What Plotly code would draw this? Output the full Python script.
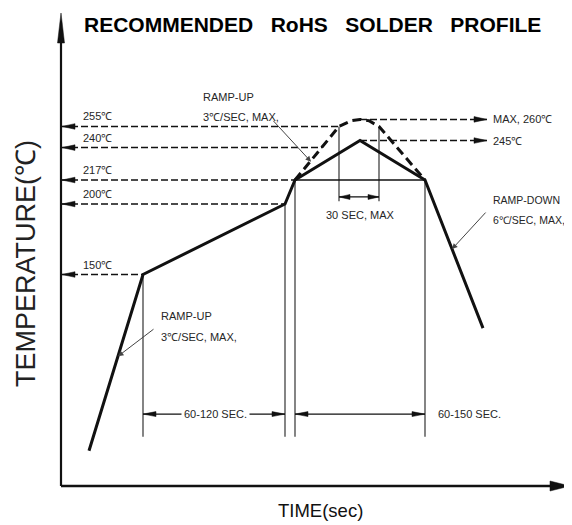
import plotly.graph_objects as go

# ---------------- data ----------------
profile_time = [28, 82, 224, 234, 299, 364, 422]
profile_temp = [25, 150, 200, 217, 245, 217, 112]

peak_time = [234, 278, 290, 299, 308, 318, 364]
peak_temp = [217, 255, 259, 260, 259, 255, 217]

level_temps = [255, 240, 217, 200, 150]
level_labels = ["255℃", "240℃", "217℃", "200℃", "150℃"]
level_end = [278, 261, 234, 224, 82]

right_temps = [260, 245]
right_labels = ["MAX, 260℃", "245℃"]
right_start = [299, 299]
right_end = 426

zone_times = [82, 224, 234, 364]
zone_tops = [150, 200, 217, 217]
zone_bottom = 35

tal_times = [278, 318]
tal_top = 255
tal_bottom = 202

liquidus_span = [234, 364]
liquidus_temp = 217

dim_soak = [82, 224]
dim_reflow = [234, 364]
dim_temp = 51
dim_tal_temp = 205

# ---------------- geometry of the picture ----------------
OFF = 8                      # default page margin of the html body
W, H = 572 - OFF, 525 - OFF
ML, MR, MT, MB = 43, 0, 0, 24
PX_T = 1.41                  # pixels per degree
PX_S = 1.0                   # pixels per time unit
ORIGIN_X = 61 - OFF          # figure pixel x of time 0
ORIGIN_Y = 486 - OFF         # figure pixel y of temp 0

x_range = [(ML - ORIGIN_X) / PX_S, (W - MR - ORIGIN_X) / PX_S]
y_range = [-(H - MB - ORIGIN_Y) / PX_T, (ORIGIN_Y - MT) / PX_T]
PW, PH = W - ML - MR, H - MT - MB


def paper_x(px):
    return (px - OFF - ML) / PW


def paper_y(py):
    return 1 - (py - OFF - MT) / PH


FONT = "Liberation Sans, Arial, sans-serif"
INK = "#111111"
GREY = "#262626"

fig = go.Figure()


def line(xs, ys, width=1.5, dash=None, color=INK):
    fig.add_trace(go.Scatter(x=xs, y=ys, mode="lines", hoverinfo="skip",
                             line=dict(color=color, width=width, dash=dash),
                             showlegend=False))


def head(tip_x, tip_y, dx, dy, length, half, color=INK):
    n = (dx * dx + dy * dy) ** 0.5
    ux, uy = dx / n, dy / n
    bx, by = -ux * length, -uy * length
    px, py = -uy * half, ux * half
    xs = [tip_x, tip_x + (bx + px) / PX_S, tip_x + (bx - px) / PX_S, tip_x]
    ys = [tip_y, tip_y + (by + py) / PX_T, tip_y + (by - py) / PX_T, tip_y]
    fig.add_trace(go.Scatter(x=xs, y=ys, mode="lines", fill="toself",
                             fillcolor=color, line=dict(color=color, width=0.5),
                             hoverinfo="skip", showlegend=False))


def text(x, y, s, size=11, xanchor="left", yshift=0, color=GREY, bg=None):
    fig.add_annotation(x=x, y=y, text=s, showarrow=False, xanchor=xanchor,
                       yanchor="middle", yshift=yshift,
                       font=dict(family=FONT, size=size, color=color),
                       bgcolor=bg, borderpad=2 if bg else 0)


def leader(tail_x, tail_y, tip_x, tip_y):
    fig.add_annotation(x=tip_x, y=tip_y, ax=tail_x, ay=tail_y, axref="x", ayref="y",
                       text="", showarrow=True, arrowhead=2, arrowsize=1.1,
                       arrowwidth=1, arrowcolor="#444444")


# guide lines to the temperature axis
for T, lab, end in zip(level_temps, level_labels, level_end):
    line([0, end], [T, T], width=1.5, dash="7px,3px")
    head(1, T, -1, 0, 13, 2.8)
    text(21, T, lab, yshift=10)

# guide lines to the right
for T, lab, st in zip(right_temps, right_labels, right_start):
    line([st, right_end], [T, T], width=1.5, dash="7px,3px")
    head(right_end, T, 1, 0, 13, 2.8)
    text(right_end + 5, T, lab)

# zone boundaries
for t, top in zip(zone_times, zone_tops):
    line([t, t], [zone_bottom, top], width=1.2, color="#333333")
for t in tal_times:
    line([t, t], [tal_bottom, tal_top], width=1.2, color="#333333")
line(liquidus_span, [liquidus_temp, liquidus_temp], width=1.5)

# dimension arrows
line(dim_soak, [dim_temp, dim_temp], width=1.2)
head(dim_soak[0], dim_temp, -1, 0, 13, 2.5)
head(dim_soak[1], dim_temp, 1, 0, 13, 2.5)
text((dim_soak[0] + dim_soak[1]) / 2 + 1, dim_temp, "60-120 SEC.", xanchor="center", bg="white")

line(dim_reflow, [dim_temp, dim_temp], width=1.2)
head(dim_reflow[0], dim_temp, -1, 0, 13, 2.5)
head(dim_reflow[1], dim_temp, 1, 0, 13, 2.5)
text(dim_reflow[1] + 12, dim_temp, "60-150 SEC.")

line(tal_times, [dim_tal_temp, dim_tal_temp], width=1.2)
head(tal_times[0], dim_tal_temp, -1, 0, 11, 2.5)
head(tal_times[1], dim_tal_temp, 1, 0, 11, 2.5)
text((tal_times[0] + tal_times[1]) / 2 + 1, dim_tal_temp, "30 SEC, MAX",
     xanchor="center", yshift=-18)

# profiles
line(peak_time, peak_temp, width=3, dash="9px,5px")
line(profile_time, profile_temp, width=3)

# ramp annotations
text(141, 262, "RAMP-UP", yshift=20)
text(141, 262, "3℃/SEC, MAX,")
leader(211, 260, 250, 230)

text(99, 106, "RAMP-UP", yshift=21)
text(99, 106, "3℃/SEC, MAX,")
leader(94, 112, 57, 92)

text(431, 189, "RAMP-DOWN", size=10.5, yshift=20)
text(431, 189, "6℃/SEC, MAX,", size=10.5)
leader(426, 195, 391, 168)

# axes with arrows
line([0, 0], [0, y_range[1] - 33 / PX_T], width=2.2)
head(0, y_range[1] - 5 / PX_T, 0, 1, 30, 3.5)
line([0, 509 - 18], [0, 0], width=2.6)
head(509, 0, 1, 0, 20, 5)

# axis titles and main title
fig.add_annotation(xref="paper", yref="paper", x=paper_x(26), y=paper_y(264),
                   text="TEMPERATURE(℃)", textangle=-90, showarrow=False,
                   xanchor="center", yanchor="middle",
                   font=dict(family=FONT, size=27, color="#222222"))
fig.add_annotation(xref="paper", yref="paper", x=paper_x(320), y=paper_y(510),
                   text="TIME(sec)", showarrow=False, xanchor="center", yanchor="middle",
                   font=dict(family=FONT, size=18.5, color="#111111"))
fig.add_annotation(xref="paper", yref="paper", x=paper_x(312), y=paper_y(25),
                   text="RECOMMENDED\u00a0\u00a0\u00a0RoHS\u00a0\u00a0\u00a0SOLDER\u00a0\u00a0\u00a0PROFILE",
                   showarrow=False, xanchor="center", yanchor="middle",
                   font=dict(family=FONT, size=21, color="black", weight="bold"))

fig.update_layout(
    width=W, height=H,
    margin=dict(l=ML, r=MR, t=MT, b=MB),
    paper_bgcolor="white", plot_bgcolor="white",
    xaxis=dict(range=x_range, visible=False, fixedrange=True),
    yaxis=dict(range=y_range, visible=False, fixedrange=True),
    showlegend=False,
)

fig.write_html("out.html")
